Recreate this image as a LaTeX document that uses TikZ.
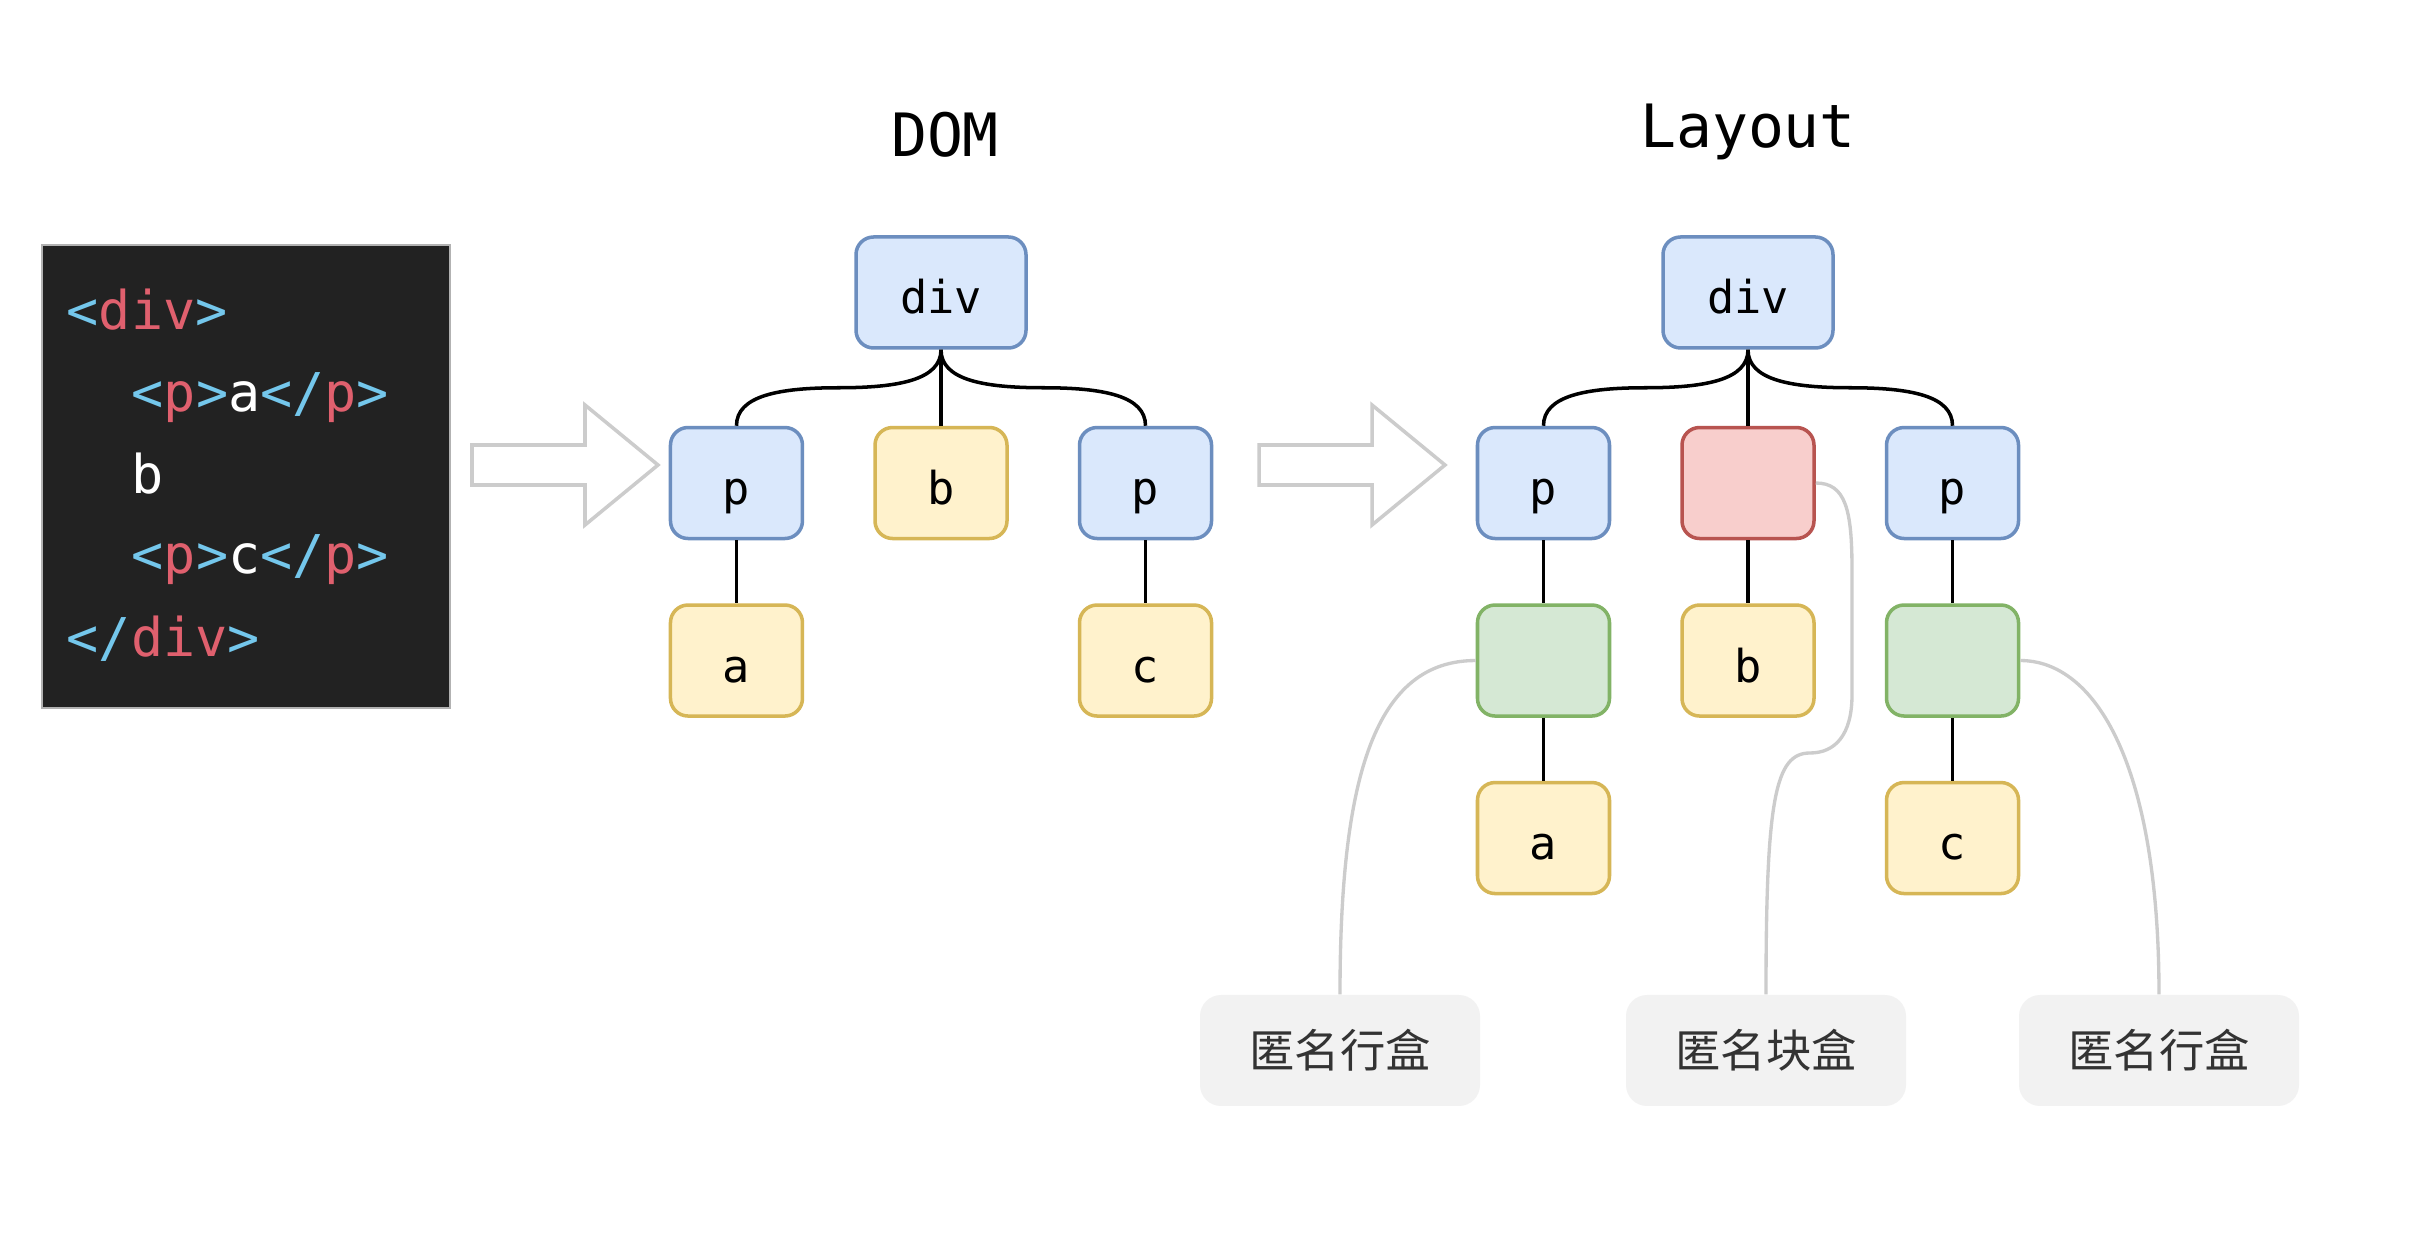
\documentclass[tikz,border=0pt]{standalone}
\usepackage{fontspec}
\setmonofont{DejaVu Sans Mono}
\newfontfamily\cjk{Noto Sans CJK SC}
\usetikzlibrary{positioning,calc}

\definecolor{codebg}{HTML}{222222}
\definecolor{tagblue}{HTML}{74C7EC}
\definecolor{tagred}{HTML}{E0606E}
\definecolor{blufill}{HTML}{DAE8FC}
\definecolor{bludraw}{HTML}{6C8EBF}
\definecolor{yelfill}{HTML}{FFF2CC}
\definecolor{yeldraw}{HTML}{D6B656}
\definecolor{redfill}{HTML}{F8CECC}
\definecolor{reddraw}{HTML}{B85450}
\definecolor{grnfill}{HTML}{D5E8D4}
\definecolor{grndraw}{HTML}{82B366}
\definecolor{notegray}{HTML}{CCCCCC}
\definecolor{labfill}{HTML}{F2F2F2}

\newcommand{\codeb}[1]{\textcolor{tagblue}{#1}}
\newcommand{\coder}[1]{\textcolor{tagred}{#1}}

\begin{document}
\begin{tikzpicture}[font=\ttfamily\fontsize{12.9}{15}\selectfont,
  box/.style={draw,rounded corners=5pt,line width=1pt,minimum width=1.32cm,minimum height=1.11cm,inner sep=0pt,text height=0.5cm,text depth=0.07cm},
  elem/.style={box,fill=blufill,draw=bludraw},
  txt/.style={box,fill=yelfill,draw=yeldraw},
  anon/.style={box,fill=redfill,draw=reddraw},
  inl/.style={box,fill=grnfill,draw=grndraw},
  link/.style={line width=1pt},
  note/.style={draw=notegray,line width=0.95pt},
  tag/.style={fill=labfill,rounded corners=6pt,minimum width=2.80cm,minimum height=1.11cm,font=\cjk\fontsize{12.9}{15}\selectfont,text=black!80},
  codeline/.style={anchor=base west,text=white,inner sep=0pt,font=\ttfamily\fontsize{15.2}{17}\selectfont},
  title/.style={anchor=base,inner sep=0pt,font=\ttfamily\fontsize{17}{20}\selectfont},
  hollow/.style={draw=notegray,line width=1pt,fill=white,line join=miter},
  node distance=0.63cm]
\path[fill=white,use as bounding box] (0,0) rectangle (24.18,-12.42);

% source
\node[draw=gray!60,line width=0.4pt,fill=codebg,minimum width=4.08cm,minimum height=4.63cm,inner sep=0pt] (code) at (2.46,-4.765) {};
\node[codeline] (c1) at (0.66,-3.30) {\codeb{<}\coder{div}\codeb{>}};
\node[codeline] (c2) at (1.31,-4.117) {\codeb{<}\coder{p}\codeb{>}a\codeb{</}\coder{p}\codeb{>}};
\node[codeline] (c3) at (1.31,-4.933) {b};
\node[codeline] (c4) at (1.31,-5.733) {\codeb{<}\coder{p}\codeb{>}c\codeb{</}\coder{p}\codeb{>}};
\node[codeline] (c5) at (0.66,-6.567) {\codeb{</}\coder{div}\codeb{>}};

\foreach \ax in {4.72,12.59}
  \draw[hollow] (\ax,-4.45) -- ++(1.13,0) -- ++(0,0.40) -- ++(0.73,-0.60) -- ++(-0.73,-0.60) -- ++(0,0.40) -- ++(-1.13,0) -- cycle;

% DOM
\node[title] (t-dom) at (9.45,-1.57) {DOM};
\node[elem,minimum width=1.70cm] (d-div) at (9.41,-2.925) {div};
\node[txt,below=0.76cm of d-div] (d-b) {b};
\node[elem,left=0.69cm of d-b] (d-p1) {p};
\node[elem,right=0.69cm of d-b] (d-p2) {p};
\node[txt,below=of d-p1] (d-a) {a};
\node[txt,below=of d-p2] (d-c) {c};

% Layout
\node[title] (t-layout) at (17.48,-1.48) {Layout};
\node[elem,minimum width=1.70cm] (l-div) at (17.48,-2.925) {div};
\node[anon,below=0.76cm of l-div] (l-anon) {};
\node[elem,left=0.69cm of l-anon] (l-p1) {p};
\node[elem,right=0.69cm of l-anon] (l-p2) {p};
\node[inl,below=of l-p1] (l-line1) {};
\node[txt,below=of l-anon] (l-b) {b};
\node[inl,below=of l-p2] (l-line2) {};
\node[txt,below=of l-line1] (l-a) {a};
\node[txt,below=of l-line2] (l-c) {c};

\node[tag] (lab1) at (13.40,-10.505) {匿名行盒};
\node[tag] (lab2) at (17.66,-10.505) {匿名块盒};
\node[tag] (lab3) at (21.59,-10.505) {匿名行盒};

\foreach \u/\v in {d-div/d-b,d-p1/d-a,d-p2/d-c,l-div/l-anon,l-anon/l-b,l-p1/l-line1,l-line1/l-a,l-p2/l-line2,l-line2/l-c}
  \draw[link] (\u.south) -- (\v.north);
\foreach \u/\v/\a/\b in {d-div/d-p1/0.6/-0.6,d-div/d-p2/-0.6/0.6,l-div/l-p1/0.6/-0.6,l-div/l-p2/-0.6/0.6}
  \draw[link] (\u.south) .. controls +(0,-0.3) and +(\a,0) .. ($(\u.south)!.5!(\v.north)$) .. controls +(\b,0) and +(0,0.3) .. (\v.north);

\coordinate (n2a) at (18.52,-5.70);
\coordinate (n2b) at (18.52,-6.95);
\coordinate (n2c) at (18.10,-7.53);
\draw[note] (l-line1.west) .. controls +(-1.0,0) and +(0,2.2) .. (lab1.north);
\draw[note] (l-anon.east) .. controls +(0.30,0) and +(0,0.6) .. (n2a) -- (n2b) .. controls +(0,-0.40) and +(0.25,0) .. (n2c) .. controls +(-0.35,0) and +(0,1.95) .. (lab2.north);
\draw[note] (l-line2.east) .. controls +(0.75,0) and +(0,2.3) .. (lab3.north);
\end{tikzpicture}
\end{document}
